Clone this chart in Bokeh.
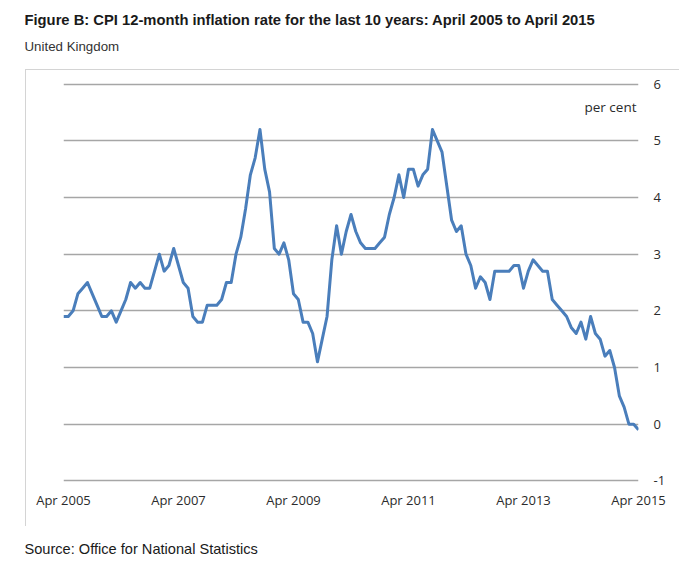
from bokeh.plotting import figure
from bokeh.models import Range1d, FixedTicker, Label, Title, InlineStyleSheet
from bokeh.embed import file_html
from bokeh.resources import INLINE

# ---- data -------------------------------------------------------------
month_names = ["Jan", "Feb", "Mar", "Apr", "May", "Jun",
               "Jul", "Aug", "Sep", "Oct", "Nov", "Dec"]
months = []
for yr in range(2005, 2016):
    for m in month_names:
        months.append(f"{m} {yr}")
months = months[months.index("Apr 2005"):months.index("Apr 2015") + 1]

cpi = [
    1.9, 1.9, 2.0, 2.3, 2.4, 2.5, 2.3, 2.1, 1.9,
    1.9, 2.0, 1.8, 2.0, 2.2, 2.5, 2.4, 2.5, 2.4, 2.4, 2.7, 3.0,
    2.7, 2.8, 3.1, 2.8, 2.5, 2.4, 1.9, 1.8, 1.8, 2.1, 2.1, 2.1,
    2.2, 2.5, 2.5, 3.0, 3.3, 3.8, 4.4, 4.7, 5.2, 4.5, 4.1, 3.1,
    3.0, 3.2, 2.9, 2.3, 2.2, 1.8, 1.8, 1.6, 1.1, 1.5, 1.9, 2.9,
    3.5, 3.0, 3.4, 3.7, 3.4, 3.2, 3.1, 3.1, 3.1, 3.2, 3.3, 3.7,
    4.0, 4.4, 4.0, 4.5, 4.5, 4.2, 4.4, 4.5, 5.2, 5.0, 4.8, 4.2,
    3.6, 3.4, 3.5, 3.0, 2.8, 2.4, 2.6, 2.5, 2.2, 2.7, 2.7, 2.7,
    2.7, 2.8, 2.8, 2.4, 2.7, 2.9, 2.8, 2.7, 2.7, 2.2, 2.1, 2.0,
    1.9, 1.7, 1.6, 1.8, 1.5, 1.9, 1.6, 1.5, 1.2, 1.3, 1.0, 0.5,
    0.3, 0.0, 0.0, -0.1,
]

x_tick_labels = ["Apr 2005", "Apr 2007", "Apr 2009", "Apr 2011", "Apr 2013", "Apr 2015"]
y_ticks = [-1, 0, 1, 2, 3, 4, 5, 6]

title_text = "Figure B: CPI 12-month inflation rate for the last 10 years: April 2005 to April 2015"
subtitle_text = "United Kingdom"
unit_text = "per cent"
source_text = "Source: Office for National Statistics"

# ---- figure -----------------------------------------------------------
xs = list(range(len(months)))
x_ticks = [months.index(l) for l in x_tick_labels]

p = figure(width=690, height=573, output_backend="svg", toolbar_location=None,
           x_range=Range1d(0, len(months) - 1), y_range=Range1d(-1.1, 6.1),
           x_axis_location="below", y_axis_location="right",
           min_border_left=63, min_border_right=52,
           min_border_top=78, min_border_bottom=87)
p.background_fill_color = "white"
p.border_fill_color = "white"
p.outline_line_color = None

p.line(xs, cpi, line_color="#4A7EBB", line_width=3, line_join="round")

xa = p.xaxis[0]
xa.ticker = FixedTicker(ticks=x_ticks)
xa.major_label_overrides = {t: l for t, l in zip(x_ticks, x_tick_labels)}
xa.axis_line_color = None
xa.major_tick_line_color = None
xa.major_tick_out = 0
xa.major_tick_in = 0
xa.minor_tick_line_color = None
xa.major_label_standoff = 4
xa.major_label_text_font = "Open Sans"
xa.major_label_text_font_size = "13px"
xa.major_label_text_color = "#2b2b2b"

ya = p.yaxis[0]
ya.ticker = FixedTicker(ticks=y_ticks)
ya.major_label_overrides = {t: str(t) for t in y_ticks}
ya.axis_line_color = None
ya.major_tick_line_color = None
ya.major_tick_out = 0
ya.major_tick_in = 0
ya.minor_tick_line_color = None
ya.major_label_standoff = 15
ya.major_label_text_font = "Open Sans"
ya.major_label_text_font_size = "13px"
ya.major_label_text_color = "#2b2b2b"

p.xgrid.grid_line_color = None
p.ygrid.ticker = FixedTicker(ticks=y_ticks)
p.ygrid.grid_line_color = "#a6a6a6"
p.ygrid.grid_line_width = 1.3

p.add_layout(Label(x=len(months) - 1, y=5.6, text=unit_text, text_align="right",
                   text_baseline="alphabetic", text_font="Open Sans",
                   text_font_size="13.5px", text_color="#2b2b2b", x_offset=-2))


def make_title(text, size, style, color, pad):
    # pad = (left, right, top, bottom)
    return Title(text=text, align="left", offset=-39, standoff=0, padding=pad,
                 text_font="Liberation Sans", text_font_size=size,
                 text_font_style=style, text_color=color)


# titles: first added sits nearest the frame
p.add_layout(make_title(subtitle_text, "13.3px", "normal", "#333333", (0, 0, 0, 25)), "above")
p.add_layout(make_title(title_text, "14.75px", "bold", "#1a1a1a", (0, 0, 0, 9)), "above")
p.add_layout(make_title(source_text, "14.6px", "normal", "#1a1a1a", (0, 0, 27, 0)), "below")

# faint frame of the chart box (left and top edges)
css = """
:host { position: relative; }
:host::after {
  content: "";
  position: absolute;
  left: 25px; top: 69px; width: 653px; height: 456px;
  border-left: 1px solid #d4d4d4;
  border-top: 1px solid #d4d4d4;
  pointer-events: none;
}
"""
p.stylesheets = [InlineStyleSheet(css=css)]

open("out.html", "w").write(file_html(p, INLINE))
